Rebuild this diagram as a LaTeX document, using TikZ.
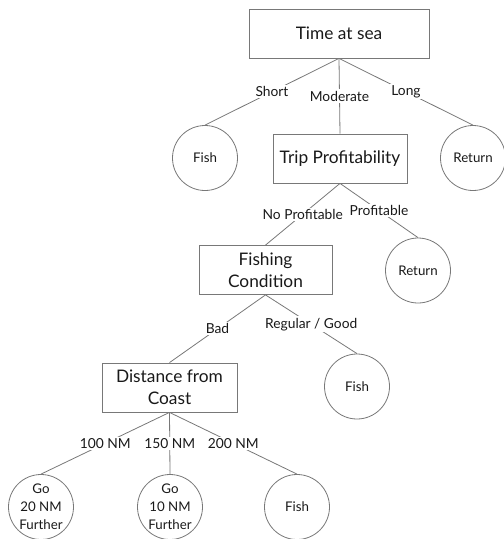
\documentclass[tikz,border=0pt]{standalone}
\usepackage{fontspec}
\setmainfont{Lato}
\definecolor{linegray}{RGB}{120,120,120}
\definecolor{txt}{RGB}{25,25,25}
\begin{document}
\begin{tikzpicture}[x=1pt,y=-1pt,
  box/.style={draw=linegray, line width=0.8pt, minimum width=#1, minimum height=49pt, inner sep=0pt, align=center, font=\fontsize{17.3}{21.5}\selectfont, text=txt},
  leaf/.style={draw=linegray, line width=0.8pt, circle, minimum size=65pt, inner sep=0pt, align=center, font=\fontsize{13.3}{18}\selectfont, text=txt},
  edge/.style={draw=linegray, line width=0.8pt},
  lab/.style={midway, fill=white, inner sep=1.5pt, font=\fontsize{13.8}{16}\selectfont, text=txt}]
\useasboundingbox (0,0) rectangle (504,539);
\node[box=180pt] (time) at (339,33.5) {Time at sea};
\node[leaf] (fish1) at (205,158) {Fish};
\node[box=134pt] (trip) at (340,158.5) {Trip Profitability};
\node[leaf] (ret1) at (473,158) {Return};
\node[box=133pt] (fc) at (265.5,270) {Fishing\\Condition};
\node[leaf] (ret2) at (418,270.5) {Return};
\node[box=135pt] (dist) at (169.5,387.5) {Distance from\\Coast};
\node[leaf] (fish3) at (357,386.5) {Fish};
\node[leaf] (go20) at (41,507) {Go\\20 NM\\Further};
\node[leaf] (go10) at (170,507) {Go\\10 NM\\Further};
\node[leaf] (fish4) at (297,507) {Fish};

\draw[edge] (time.south) -- (fish1.north) node[lab] {Short};
\draw[edge] (time.south) -- (trip.north) node[lab] {Moderate};
\draw[edge] (time.south) -- (ret1.north) node[lab] {Long};
\draw[edge] (trip.south) -- (fc.north) node[lab] {No Profitable};
\draw[edge] (trip.south) -- (ret2.north) node[lab] {Profitable};
\draw[edge] (fc.south) -- (dist.north) node[lab] {Bad};
\draw[edge] (fc.south) -- (fish3.north) node[lab] {Regular / Good};
\draw[edge] (dist.south) -- (go20.north) node[lab] {100 NM};
\draw[edge] (dist.south) -- (go10.north) node[lab] {150 NM};
\draw[edge] (dist.south) -- (fish4.north) node[lab] {200 NM};
\end{tikzpicture}
\end{document}
